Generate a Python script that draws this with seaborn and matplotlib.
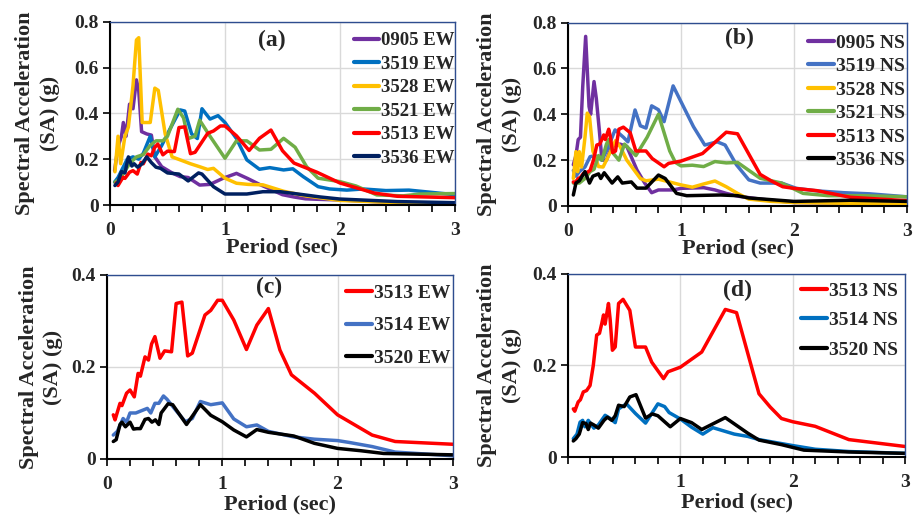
import matplotlib
matplotlib.use("Agg")
import matplotlib.pyplot as plt
import seaborn as sns
import pandas as pd
from matplotlib.ticker import MultipleLocator, FixedLocator, FixedFormatter

# ---------------- data (Period in s, SA in g) ----------------
T_0905_EW = [0.04, 0.06, 0.08, 0.1, 0.116, 0.14, 0.17, 0.2, 0.23, 0.25, 0.275, 0.32, 0.36, 0.39, 0.45, 0.54, 0.61, 0.68, 0.78, 0.87, 0.985, 1.1, 1.2, 1.3, 1.4, 1.5, 1.6, 1.7, 1.8, 2.0, 2.5, 3.0]
SA_0905_EW = [0.15, 0.22, 0.27, 0.3, 0.36, 0.3, 0.44, 0.42, 0.546, 0.5, 0.32, 0.31, 0.305, 0.21, 0.167, 0.14, 0.124, 0.12, 0.087, 0.09, 0.117, 0.138, 0.115, 0.09, 0.068, 0.045, 0.035, 0.027, 0.025, 0.022, 0.01, 0.01]
T_3519_EW = [0.04, 0.07, 0.1, 0.15, 0.2, 0.25, 0.29, 0.35, 0.39, 0.45, 0.52, 0.61, 0.65, 0.71, 0.76, 0.8, 0.87, 0.94, 1.0, 1.1, 1.19, 1.3, 1.39, 1.51, 1.59, 1.68, 1.81, 1.91, 2.06, 2.2, 2.4, 2.6, 3.0]
SA_3519_EW = [0.1, 0.12, 0.15, 0.2, 0.21, 0.2, 0.226, 0.3, 0.21, 0.26, 0.33, 0.415, 0.41, 0.31, 0.29, 0.42, 0.375, 0.39, 0.36, 0.29, 0.197, 0.156, 0.163, 0.153, 0.158, 0.124, 0.08, 0.07, 0.065, 0.07, 0.063, 0.065, 0.045]
T_3528_EW = [0.043, 0.07, 0.093, 0.13, 0.16, 0.2, 0.23, 0.25, 0.28, 0.35, 0.39, 0.42, 0.48, 0.54, 0.61, 0.7, 0.78, 0.85, 0.9, 1.0, 1.1, 1.2, 1.33, 1.51, 1.7, 2.0, 2.5, 3.0]
SA_3528_EW = [0.145, 0.3, 0.18, 0.3, 0.34, 0.52, 0.72, 0.73, 0.36, 0.36, 0.51, 0.5, 0.31, 0.21, 0.197, 0.18, 0.167, 0.155, 0.16, 0.117, 0.095, 0.09, 0.088, 0.06, 0.04, 0.02, 0.01, 0.008]
T_3521_EW = [0.043, 0.08, 0.12, 0.17, 0.23, 0.29, 0.35, 0.4, 0.46, 0.5, 0.59, 0.64, 0.68, 0.74, 0.78, 0.87, 1.0, 1.1, 1.19, 1.3, 1.4, 1.51, 1.61, 1.71, 1.81, 2.0, 2.14, 2.32, 2.55, 2.7, 3.0]
SA_3521_EW = [0.1, 0.11, 0.14, 0.18, 0.21, 0.22, 0.26, 0.28, 0.28, 0.3, 0.418, 0.38, 0.29, 0.3, 0.37, 0.3, 0.204, 0.28, 0.28, 0.24, 0.243, 0.291, 0.252, 0.167, 0.117, 0.102, 0.083, 0.044, 0.04, 0.048, 0.05]
T_3513_EW = [0.055, 0.07, 0.113, 0.13, 0.17, 0.2, 0.237, 0.27, 0.29, 0.33, 0.36, 0.387, 0.416, 0.46, 0.5, 0.56, 0.6, 0.65, 0.7, 0.74, 0.85, 0.9, 0.96, 1.0, 1.1, 1.21, 1.3, 1.4, 1.5, 1.6, 1.8, 2.0, 2.3, 2.5, 3.0]
SA_3513_EW = [0.096, 0.085, 0.121, 0.116, 0.143, 0.15, 0.135, 0.186, 0.18, 0.222, 0.215, 0.25, 0.266, 0.219, 0.235, 0.233, 0.338, 0.341, 0.224, 0.23, 0.313, 0.323, 0.345, 0.345, 0.302, 0.238, 0.291, 0.327, 0.237, 0.183, 0.143, 0.096, 0.052, 0.038, 0.032]
T_3536_EW = [0.043, 0.07, 0.1, 0.13, 0.16, 0.19, 0.21, 0.24, 0.28, 0.32, 0.36, 0.4, 0.44, 0.5, 0.6, 0.68, 0.77, 0.8, 0.9, 1.0, 1.19, 1.33, 1.48, 1.68, 1.83, 2.0, 2.5, 3.0]
SA_3536_EW = [0.085, 0.1, 0.146, 0.14, 0.21, 0.17, 0.18, 0.165, 0.18, 0.21, 0.185, 0.165, 0.16, 0.14, 0.135, 0.105, 0.14, 0.135, 0.08, 0.048, 0.048, 0.058, 0.058, 0.045, 0.035, 0.026, 0.015, 0.01]

T_0905_NS = [0.047, 0.07, 0.09, 0.11, 0.13, 0.156, 0.186, 0.2, 0.23, 0.25, 0.277, 0.3, 0.34, 0.387, 0.46, 0.52, 0.61, 0.68, 0.74, 0.8, 0.93, 1.0, 1.2, 1.3, 1.4, 1.5, 1.7, 2.0, 3.0]
SA_0905_NS = [0.18, 0.22, 0.29, 0.3, 0.52, 0.74, 0.434, 0.4, 0.543, 0.47, 0.33, 0.2, 0.2, 0.26, 0.27, 0.26, 0.157, 0.099, 0.058, 0.07, 0.07, 0.077, 0.08, 0.07, 0.055, 0.043, 0.03, 0.015, 0.01]
T_3519_NS = [0.047, 0.07, 0.1, 0.15, 0.195, 0.24, 0.3, 0.35, 0.416, 0.49, 0.53, 0.593, 0.64, 0.69, 0.74, 0.8, 0.85, 0.93, 1.11, 1.21, 1.32, 1.39, 1.49, 1.6, 1.7, 1.89, 2.02, 2.2, 2.44, 2.67, 3.0]
SA_3519_NS = [0.155, 0.13, 0.15, 0.17, 0.215, 0.22, 0.2, 0.25, 0.332, 0.3, 0.28, 0.419, 0.35, 0.34, 0.437, 0.42, 0.368, 0.524, 0.346, 0.266, 0.28, 0.266, 0.18, 0.114, 0.1, 0.1, 0.077, 0.066, 0.058, 0.053, 0.04]
T_3528_NS = [0.047, 0.07, 0.085, 0.1, 0.12, 0.15, 0.17, 0.19, 0.22, 0.27, 0.31, 0.35, 0.42, 0.46, 0.52, 0.64, 0.69, 0.8, 1.0, 1.1, 1.2, 1.3, 1.4, 1.5, 1.6, 1.8, 2.0, 3.0]
SA_3528_NS = [0.12, 0.237, 0.15, 0.237, 0.17, 0.3, 0.405, 0.39, 0.24, 0.172, 0.17, 0.21, 0.285, 0.26, 0.2, 0.12, 0.11, 0.117, 0.092, 0.082, 0.096, 0.109, 0.084, 0.055, 0.03, 0.02, 0.015, 0.008]
T_3521_NS = [0.047, 0.1, 0.15, 0.195, 0.23, 0.27, 0.3, 0.34, 0.36, 0.4, 0.45, 0.5, 0.6, 0.65, 0.7, 0.8, 0.85, 0.9, 0.95, 1.0, 1.1, 1.2, 1.3, 1.4, 1.5, 1.7, 1.89, 2.08, 2.3, 2.6, 3.0]
SA_3521_NS = [0.1, 0.1, 0.12, 0.15, 0.16, 0.22, 0.2, 0.27, 0.29, 0.23, 0.2, 0.27, 0.22, 0.26, 0.3, 0.4, 0.32, 0.24, 0.19, 0.175, 0.178, 0.172, 0.194, 0.188, 0.19, 0.121, 0.1, 0.055, 0.045, 0.045, 0.04]
T_3513_NS = [0.047, 0.06, 0.09, 0.11, 0.136, 0.165, 0.196, 0.225, 0.255, 0.28, 0.3, 0.316, 0.33, 0.345, 0.36, 0.375, 0.395, 0.42, 0.45, 0.49, 0.55, 0.6, 0.69, 0.745, 0.85, 0.89, 1.0, 1.19, 1.4, 1.5, 1.65, 1.7, 1.8, 1.9, 2.0, 2.2, 2.5, 2.8, 3.0]
SA_3513_NS = [0.105, 0.1, 0.12, 0.125, 0.142, 0.145, 0.156, 0.2, 0.266, 0.27, 0.291, 0.31, 0.29, 0.313, 0.335, 0.3, 0.233, 0.24, 0.335, 0.344, 0.32, 0.24, 0.24, 0.207, 0.171, 0.186, 0.196, 0.229, 0.322, 0.315, 0.182, 0.138, 0.109, 0.084, 0.077, 0.067, 0.038, 0.029, 0.023]
T_3536_NS = [0.047, 0.07, 0.1, 0.15, 0.19, 0.22, 0.27, 0.29, 0.32, 0.39, 0.44, 0.48, 0.56, 0.61, 0.69, 0.8, 0.86, 0.96, 1.05, 1.35, 1.5, 1.6, 2.0, 2.5, 3.0]
SA_3536_NS = [0.048, 0.1, 0.11, 0.15, 0.1, 0.13, 0.14, 0.12, 0.145, 0.1, 0.127, 0.1, 0.105, 0.078, 0.078, 0.135, 0.12, 0.055, 0.045, 0.048, 0.045, 0.035, 0.02, 0.025, 0.02]

T_3514_EW = [0.055, 0.09, 0.14, 0.17, 0.2, 0.25, 0.3, 0.35, 0.38, 0.416, 0.45, 0.49, 0.52, 0.6, 0.68, 0.74, 0.81, 0.9, 1.0, 1.1, 1.21, 1.3, 1.4, 1.62, 1.8, 2.0, 2.1, 2.3, 2.5, 3.0]
SA_3514_EW = [0.052, 0.06, 0.088, 0.08, 0.1, 0.1, 0.105, 0.11, 0.1, 0.121, 0.121, 0.137, 0.13, 0.105, 0.081, 0.088, 0.125, 0.118, 0.122, 0.087, 0.07, 0.074, 0.06, 0.048, 0.043, 0.04, 0.036, 0.027, 0.015, 0.007]
T_3520_EW = [0.055, 0.08, 0.113, 0.13, 0.16, 0.2, 0.23, 0.26, 0.29, 0.33, 0.36, 0.39, 0.42, 0.45, 0.47, 0.53, 0.57, 0.69, 0.81, 0.9, 1.0, 1.1, 1.21, 1.3, 1.4, 1.62, 1.8, 2.0, 2.2, 2.4, 3.0]
SA_3520_EW = [0.038, 0.042, 0.075, 0.08, 0.07, 0.08, 0.065, 0.066, 0.066, 0.086, 0.088, 0.08, 0.085, 0.075, 0.1, 0.12, 0.118, 0.075, 0.118, 0.095, 0.081, 0.063, 0.048, 0.064, 0.058, 0.05, 0.034, 0.023, 0.018, 0.012, 0.009]
T_3514_NS = [0.047, 0.08, 0.107, 0.13, 0.15, 0.18, 0.23, 0.27, 0.33, 0.37, 0.42, 0.45, 0.52, 0.6, 0.69, 0.8, 0.86, 0.9, 1.0, 1.1, 1.2, 1.29, 1.48, 1.6, 1.7, 2.0, 2.2, 2.5, 3.0]
SA_3514_NS = [0.04, 0.05, 0.076, 0.08, 0.066, 0.08, 0.063, 0.07, 0.091, 0.085, 0.075, 0.105, 0.116, 0.095, 0.074, 0.116, 0.11, 0.097, 0.083, 0.065, 0.05, 0.064, 0.05, 0.045, 0.038, 0.025, 0.017, 0.012, 0.008]
T_3520_NS = [0.047, 0.07, 0.1, 0.13, 0.16, 0.18, 0.2, 0.23, 0.27, 0.32, 0.35, 0.39, 0.42, 0.45, 0.5, 0.55, 0.605, 0.69, 0.75, 0.8, 0.91, 1.0, 1.1, 1.19, 1.4, 1.6, 1.7, 1.9, 2.0, 2.1, 2.5, 3.0]
SA_3520_NS = [0.035, 0.04, 0.05, 0.075, 0.073, 0.06, 0.074, 0.07, 0.063, 0.08, 0.087, 0.08, 0.09, 0.113, 0.11, 0.131, 0.136, 0.085, 0.094, 0.09, 0.066, 0.084, 0.075, 0.06, 0.086, 0.052, 0.037, 0.027, 0.021, 0.015, 0.011, 0.008]

X_TICKS = [0, 1, 2, 3]
X_TICK_LABELS = ["0", "1", "2", "3"]
X_TICK_LABELS_D = ["", "1", "2", "3"]

PURPLE, BLUE1, BLUE2, YELLOW, GREEN, RED, NAVY, BLACK = (
    "#7030A0", "#0070C0", "#4472C4", "#FFC000", "#70AD47", "#FF0000", "#002060", "#000000")

panels = [
    dict(name="(a)", pos=[0.1202, 0.6027, 0.377, 0.3553], ymax=0.8,
         series=[("0905 EW", T_0905_EW, SA_0905_EW, PURPLE),
                 ("3519 EW", T_3519_EW, SA_3519_EW, BLUE1),
                 ("3528 EW", T_3528_EW, SA_3528_EW, YELLOW),
                 ("3521 EW", T_3521_EW, SA_3521_EW, GREEN),
                 ("3513 EW", T_3513_EW, SA_3513_EW, RED),
                 ("3536 EW", T_3536_EW, SA_3536_EW, NAVY)],
         lab=(1.41, 0.72), ylx=-0.145, leg_fs=13.5, leg_sp=0.34, leg_anchor=(1.005, 0.953),
         xlabels=X_TICK_LABELS, xlpad=-1),
    dict(name="(b)", pos=[0.6208, 0.6008, 0.3705, 0.3553], ymax=0.8,
         series=[("0905 NS", T_0905_NS, SA_0905_NS, PURPLE),
                 ("3519 NS", T_3519_NS, SA_3519_NS, BLUE2),
                 ("3528 NS", T_3528_NS, SA_3528_NS, YELLOW),
                 ("3521 NS", T_3521_NS, SA_3521_NS, GREEN),
                 ("3513 NS", T_3513_NS, SA_3513_NS, RED),
                 ("3536 NS", T_3536_NS, SA_3536_NS, BLACK)],
         lab=(1.52, 0.73), ylx=-0.136, leg_fs=14, leg_sp=0.3, leg_anchor=(1.0, 0.948),
         xlabels=X_TICK_LABELS, xlpad=-1),
    dict(name="(c)", pos=[0.1169, 0.1105, 0.378, 0.3566], ymax=0.4,
         series=[("3513 EW", T_3513_EW, SA_3513_EW, RED),
                 ("3514 EW", T_3514_EW, SA_3514_EW, BLUE2),
                 ("3520 EW", T_3520_EW, SA_3520_EW, BLACK)],
         lab=(1.41, 0.372), ylx=-0.127, leg_fs=14, leg_sp=0.75, leg_anchor=(1.0, 0.958),
         xlabels=X_TICK_LABELS, xlpad=1),
    dict(name="(d)", pos=[0.6208, 0.1143, 0.3683, 0.3553], ymax=0.4,
         series=[("3513 NS", T_3513_NS, SA_3513_NS, RED),
                 ("3514 NS", T_3514_NS, SA_3514_NS, BLUE1),
                 ("3520 NS", T_3520_NS, SA_3520_NS, BLACK)],
         lab=(1.51, 0.364), ylx=-0.137, leg_fs=14, leg_sp=0.6, leg_anchor=(0.985, 0.963),
         xlabels=X_TICK_LABELS_D, xlpad=1),
]

sns.set_theme(style="white")
plt.rcParams["font.family"] = ["Liberation Serif", "DejaVu Serif"]
plt.rcParams["font.weight"] = "bold"
plt.rcParams["axes.labelweight"] = "bold"

fig = plt.figure(figsize=(9.15, 5.16), dpi=100)

def fmt_y(v):
    return "0" if v == 0 else f"{v:.1f}"

for p in panels:
    ax = fig.add_axes(p["pos"])
    rows = []
    for name, T, SA, col in p["series"]:
        for t, s in zip(T, SA):
            rows.append({"Period": t, "SA": s, "Station": name})
    df = pd.DataFrame(rows)
    order = [s[0] for s in p["series"]]
    pal = {s[0]: s[3] for s in p["series"]}
    sns.lineplot(data=df, x="Period", y="SA", hue="Station", hue_order=order,
                 palette=pal, estimator=None, errorbar=None, sort=False,
                 linewidth=2.5, ax=ax, legend=True)
    ax.set_xlim(0, 3)
    ax.set_ylim(0, p["ymax"])
    ax.xaxis.set_major_locator(FixedLocator(X_TICKS))
    ax.xaxis.set_major_formatter(FixedFormatter(p["xlabels"]))
    ax.xaxis.set_minor_locator(MultipleLocator(0.2))
    yt = [round(0.2 * i, 1) for i in range(int(round(p["ymax"] / 0.2)) + 1)]
    ax.yaxis.set_major_locator(FixedLocator(yt))
    ax.yaxis.set_major_formatter(FixedFormatter([fmt_y(v) for v in yt]))
    ax.grid(True, which="major", color="#D9D9D9", linewidth=1.0)
    ax.set_axisbelow(True)
    ax.tick_params(axis="x", which="both", direction="out", length=5, width=1.2,
                   color="black", bottom=True, labelsize=14, pad=7)
    ax.tick_params(axis="y", which="major", direction="out", length=5, width=1.2,
                   color="black", left=True, labelsize=14, pad=3)
    for lbl in ax.get_xticklabels() + ax.get_yticklabels():
        lbl.set_fontweight("bold")
    for s in ["left", "bottom"]:
        ax.spines[s].set_color("black")
        ax.spines[s].set_linewidth(1.5)
    for s in ["top", "right"]:
        ax.spines[s].set_color("#2E4D8F")
        ax.spines[s].set_linewidth(1.0)
    ax.set_xlabel("Period (sec)", fontsize=16, fontweight="bold", labelpad=p["xlpad"])
    ax.set_ylabel("Spectral Acceleration\n(SA) (g)", fontsize=16, fontweight="bold",
                  linespacing=1.3)
    ax.yaxis.set_label_coords(p["ylx"], 0.5)
    ax.text(p["lab"][0], p["lab"][1], p["name"], ha="center", va="center",
            fontsize=17, fontweight="bold")
    handles, labels = ax.get_legend_handles_labels()
    leg = ax.legend(handles, labels, loc="upper right", bbox_to_anchor=p["leg_anchor"],
                    frameon=False, labelspacing=p["leg_sp"],
                    handlelength=1.35, handletextpad=0.1, borderpad=0.1,
                    borderaxespad=0.0, prop={"weight": "bold", "size": p["leg_fs"]})
    for h in leg.get_lines():
        h.set_linewidth(3.0)

fig.savefig("out.png", dpi=100)
